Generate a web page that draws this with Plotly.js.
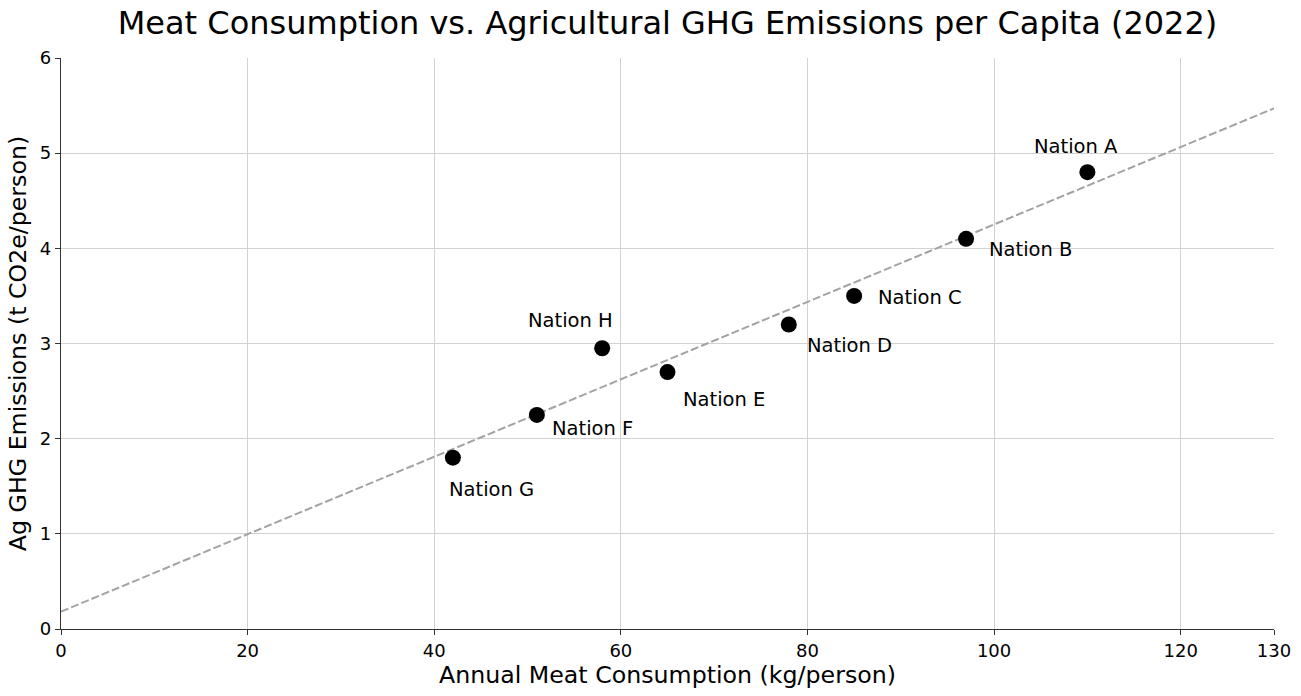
<!DOCTYPE html>
<html>
<head>
<meta charset="utf-8">
<script src="https://cdn.plot.ly/plotly-3.0.1.min.js"></script>
<style>
  html, body { margin: 0; padding: 0; background: #fff; }
  #chart { width: 1301px; height: 696px; }
</style>
</head>
<body>
<div id="chart"></div>
<script>
const nations = ["Nation A", "Nation B", "Nation C", "Nation D", "Nation E", "Nation F", "Nation G", "Nation H"];
const meatKg = [110, 97, 85, 78, 65, 51, 42, 58];
const ghgTonnes = [4.8, 4.1, 3.5, 3.2, 2.7, 2.25, 1.8, 2.95];
const xTicks = [0, 20, 40, 60, 80, 100, 120, 130];
const yTicks = [0, 1, 2, 3, 4, 5, 6];

// label placement relative to each marker (pixels)
const labelOffsets = {
  "Nation A": { xanchor: "center", dx: -11, dy: 26 },
  "Nation B": { xanchor: "left", dx: 21, dy: -11 },
  "Nation C": { xanchor: "left", dx: 22, dy: -2 },
  "Nation D": { xanchor: "left", dx: 16, dy: -21 },
  "Nation E": { xanchor: "left", dx: 13, dy: -27 },
  "Nation F": { xanchor: "left", dx: 13, dy: -14 },
  "Nation G": { xanchor: "left", dx: -6, dy: -32 },
  "Nation H": { xanchor: "center", dx: -32, dy: 28 }
};

// least squares fit through the points
const fitLine = (xs, ys) => {
  const n = xs.length;
  const mx = xs.reduce((a, b) => a + b, 0) / n;
  const my = ys.reduce((a, b) => a + b, 0) / n;
  let sxy = 0;
  let sxx = 0;
  xs.forEach((x, i) => {
    sxy += (x - mx) * (ys[i] - my);
    sxx += (x - mx) * (x - mx);
  });
  const slope = sxy / sxx;
  return { slope, intercept: my - slope * mx };
};

const { slope, intercept } = fitLine(meatKg, ghgTonnes);
const X_MIN = 0;
const X_MAX = 130;

const data = [
  {
    x: [X_MIN, X_MAX],
    y: [intercept + slope * X_MIN, intercept + slope * X_MAX],
    type: "scatter",
    mode: "lines",
    line: { color: "#a3a3a3", width: 2, dash: "8px,3px" },
    hoverinfo: "skip"
  },
  {
    x: meatKg,
    y: ghgTonnes,
    type: "scatter",
    mode: "markers",
    marker: { color: "#000000", size: 16, line: { width: 0 } },
    hoverinfo: "skip"
  }
];

const annotations = nations.map((name, i) => {
  const o = labelOffsets[name];
  return {
    x: meatKg[i],
    y: ghgTonnes[i],
    text: name,
    showarrow: false,
    xanchor: o.xanchor,
    yanchor: "middle",
    xshift: o.dx,
    yshift: o.dy,
    font: { family: "DejaVu Sans", size: 19.5, color: "#000" }
  };
});

const layout = {
  width: 1301,
  height: 696,
  margin: { t: 58, r: 27, b: 67, l: 61 },
  paper_bgcolor: "#ffffff",
  plot_bgcolor: "#ffffff",
  showlegend: false,
  font: { family: "DejaVu Sans", color: "#000" },
  title: {
    text: "Meat Consumption vs. Agricultural GHG Emissions per Capita (2022)",
    font: { family: "DejaVu Sans", size: 32, color: "#000" },
    xref: "paper",
    x: 0.5,
    xanchor: "center",
    y: 0.967,
    yanchor: "middle"
  },
  xaxis: {
    range: [X_MIN, X_MAX],
    tickvals: xTicks,
    ticktext: xTicks.map(String),
    showgrid: true,
    gridcolor: "#d2d2d2",
    gridwidth: 1,
    zeroline: false,
    showline: true,
    linecolor: "#333333",
    linewidth: 1.2,
    ticks: "outside",
    ticklen: 5,
    tickcolor: "#333333",
    tickfont: { family: "DejaVu Sans", size: 18, color: "#000" },
    title: {
      text: "Annual Meat Consumption (kg/person)",
      font: { family: "DejaVu Sans", size: 23.7, color: "#000" },
      standoff: 6
    }
  },
  yaxis: {
    range: [0, 6],
    tickvals: yTicks,
    ticktext: yTicks.map(String),
    showgrid: true,
    gridcolor: "#d2d2d2",
    gridwidth: 1,
    zeroline: false,
    showline: true,
    linecolor: "#333333",
    linewidth: 1.2,
    ticks: "outside",
    ticklen: 5,
    tickcolor: "#333333",
    tickfont: { family: "DejaVu Sans", size: 18, color: "#000" },
    title: {
      text: "Ag GHG Emissions (t CO2e/person)",
      font: { family: "DejaVu Sans", size: 23.7, color: "#000" },
      standoff: 6
    }
  },
  annotations
};

Plotly.newPlot("chart", data, layout, { displayModeBar: false, staticPlot: true });
</script>
</body>
</html>
